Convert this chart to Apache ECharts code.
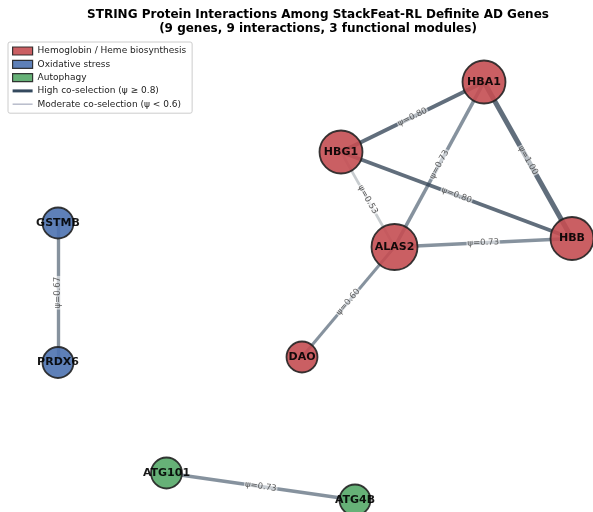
<!DOCTYPE html>
<html>
<head>
<meta charset="utf-8">
<script src="https://cdn.jsdelivr.net/npm/echarts@6/dist/echarts.min.js"></script>
<style>html,body{margin:0;padding:0;background:#fff}#c{width:593px;height:512px}</style>
</head>
<body>
<div id="c"></div>
<script>
// ---- data ----
var genes = ['HBA1', 'HBG1', 'ALAS2', 'HBB', 'DAO', 'GSTMB', 'PRDX6', 'ATG101', 'ATG4B'];
var geneModule = [0, 0, 0, 0, 0, 1, 1, 2, 2];
// layout coordinates (spring layout space)
var layoutX = [484, 341, 394.5, 572, 302, 58, 58, 166.5, 355];
var layoutY = [82, 152, 247, 238.5, 357, 223, 362.5, 473, 500];
var modules = ['Hemoglobin / Heme biosynthesis', 'Oxidative stress', 'Autophagy'];
var edgeSource = ['HBA1', 'HBA1', 'HBA1', 'HBG1', 'HBG1', 'ALAS2', 'ALAS2', 'PRDX6', 'ATG101'];
var edgeTarget = ['HBG1', 'ALAS2', 'HBB', 'HBB', 'ALAS2', 'HBB', 'DAO', 'GSTMB', 'ATG4B'];
var edgePsi = [0.80, 0.73, 1.00, 0.80, 0.53, 0.73, 0.60, 0.67, 0.73];
var titleLines = ['STRING Protein Interactions Among StackFeat-RL Definite AD Genes',
                  '(9 genes, 9 interactions, 3 functional modules)'];
var highLabel = 'High co-selection (ψ ≥ 0.8)';
var modLabel = 'Moderate co-selection (ψ < 0.6)';

// ---- styles ----
var moduleColors = ['#C44E52', '#4C72B0', '#55A868'];
var FONT = 'DejaVu Sans';
function edgeColor(p) { return p >= 0.8 ? '#2c3e50' : (p >= 0.6 ? '#5d6d7e' : '#bdc3c7'); }
var degree = {};
genes.forEach(function (g) { degree[g] = 0; });
edgeSource.forEach(function (s, i) { degree[s]++; degree[edgeTarget[i]]++; });
var sizeByDegree = {1: 31, 2: 38, 3: 43, 4: 46};

var nodes = genes.map(function (g, i) {
  return {
    name: g,
    value: [layoutX[i], layoutY[i]],
    category: geneModule[i],
    symbolSize: sizeByDegree[degree[g]]
  };
});
var links = edgeSource.map(function (s, i) {
  var p = edgePsi[i];
  return {
    source: s, target: edgeTarget[i], value: p,
    lineStyle: {color: edgeColor(p), width: p * 5, opacity: p < 0.6 ? 0.85 : 0.75}
  };
});

var chart = echarts.init(document.getElementById('c'), null, {renderer: 'canvas'});
chart.setOption({
  animation: false,
  backgroundColor: '#fff',
  textStyle: {fontFamily: FONT},
  title: {
    text: titleLines.join('\n'),
    left: 313, top: 3, textAlign: 'center',
    textStyle: {fontFamily: FONT, fontSize: 12, fontWeight: 'bold', color: '#000', lineHeight: 14}
  },
  legend: {
    orient: 'vertical', left: 8, top: 42,
    padding: [4, 6, 4, 4], itemGap: 3.3, itemWidth: 20, itemHeight: 8,
    borderColor: '#cccccc', borderWidth: 1, borderRadius: 2,
    backgroundColor: 'rgba(255,255,255,0.85)',
    selectedMode: false,
    textStyle: {fontFamily: FONT, fontSize: 9, lineHeight: 10, color: '#222', padding: [0, 0, 0, 0]},
    data: modules.map(function (m, i) {
      return {name: m, icon: 'rect', itemStyle: {color: moduleColors[i], borderColor: '#222', borderWidth: 1.2}};
    }).concat([
      {name: highLabel, icon: 'path://M0,0L20,0L20,3L0,3Z', itemStyle: {color: '#34495e', borderWidth: 0}},
      {name: modLabel, icon: 'path://M0,0L20,0L20,1.5L0,1.5Z', itemStyle: {color: '#b8bccb', borderWidth: 0}}
    ])
  },
  grid: {left: 0, right: 0, top: 0, bottom: 0},
  xAxis: {type: 'value', min: 0, max: 593, show: false},
  yAxis: {type: 'value', min: 0, max: 512, inverse: true, show: false},
  series: [
    {
      type: 'graph',
      coordinateSystem: 'cartesian2d',
      categories: modules.map(function (m, i) { return {name: m, itemStyle: {color: moduleColors[i]}}; }),
      data: nodes,
      links: links,
      itemStyle: {borderColor: '#222', borderWidth: 1.8, opacity: 0.9},
      label: {show: true, position: 'inside', fontFamily: FONT, fontSize: 11, fontWeight: 'bold', color: '#000'},
      edgeLabel: {
        show: true, position: 'middle', distance: 0, verticalAlign: 'middle',
        fontFamily: FONT, fontSize: 8.5, color: '#333',
        backgroundColor: 'rgba(255,255,255,0.75)', padding: [0, 1],
        formatter: function (p) { return 'ψ=' + p.data.value.toFixed(2); }
      },
      emphasis: {disabled: true},
      silent: true,
      z: 2
    },
    {type: 'line', name: highLabel, data: [], symbol: 'none', lineStyle: {color: '#34495e', width: 3}},
    {type: 'line', name: modLabel, data: [], symbol: 'none', lineStyle: {color: '#bdc3c7', width: 1.5}}
  ]
});
</script>
</body>
</html>
